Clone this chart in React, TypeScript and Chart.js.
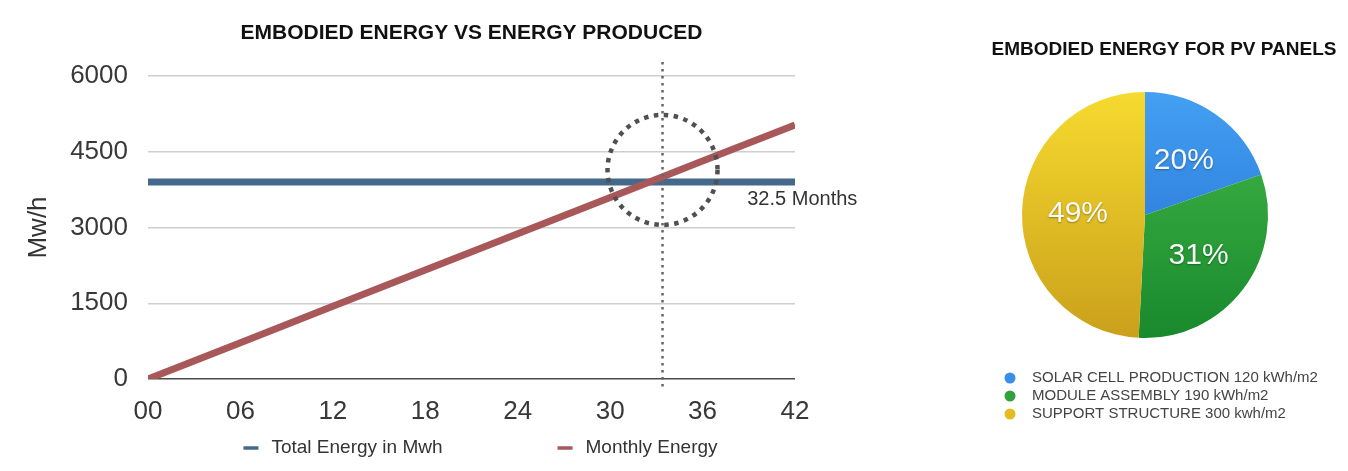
import React, { useEffect, useRef } from 'react';
import { Chart, registerables } from 'chart.js';

Chart.register(...registerables);

const FONT = '"Liberation Sans", Arial, Helvetica, sans-serif';

// ---- Line chart data ----
const lineTitle = 'EMBODIED ENERGY VS ENERGY PRODUCED';
const months = [0, 6, 12, 18, 24, 30, 36, 42];
const totalEnergy = [3900, 3900, 3900, 3900, 3900, 3900, 3900, 3900];
const monthlyEnergy = [0, 720, 1440, 2160, 2875, 3595, 4315, 5030];
const seriesNames = ['Total Energy in Mwh', 'Monthly Energy'];
const yTicks = [0, 1500, 3000, 4500, 6000];
const yAxisTitle = 'Mw/h';
const markerMonth = 33.4;
const markerCircleValue = 4140;
const markerLabel = '32.5 Months';
const markerLabelMonth = 38.9;
const markerLabelValue = 3545;

// ---- Pie chart data ----
const pieTitle = 'EMBODIED ENERGY FOR PV PANELS';
const pieLabels = [
  'SOLAR CELL PRODUCTION 120 kWh/m2',
  'MODULE ASSEMBLY 190 kWh/m2',
  'SUPPORT STRUCTURE 300 kwh/m2',
];
const pieValues = [120, 190, 300];

const BLUE = '#45698b';
const RED = '#a85859';

const pieGradStops = [
  ['#44a0f2', '#1f69cf'],
  ['#43b848', '#19892d'],
  ['#f6da2f', '#caa01b'],
];
const pieLegendColors = ['#3a8ee8', '#34a03c', '#e3bd1f'];

const linePlugin = {
  id: 'lineExtras',
  afterDatasetsDraw(chart: any) {
    const { ctx, chartArea, scales } = chart;
    const xs = scales.x;
    const ys = scales.y;
    ctx.save();
    // vertical dotted marker line
    const mx = xs.getPixelForValue(markerMonth);
    ctx.strokeStyle = '#666';
    ctx.lineWidth = 2.5;
    ctx.setLineDash([2.5, 4.5]);
    ctx.beginPath();
    ctx.moveTo(mx, chartArea.top - 14);
    ctx.lineTo(mx, chartArea.bottom + 11);
    ctx.stroke();
    // dotted circle
    const cy = ys.getPixelForValue(markerCircleValue);
    ctx.strokeStyle = '#505050';
    ctx.lineWidth = 4.5;
    ctx.setLineDash([4.5, 5.5]);
    ctx.beginPath();
    ctx.arc(mx, cy, 55, 0, Math.PI * 2);
    ctx.stroke();
    ctx.setLineDash([]);
    // marker label
    ctx.fillStyle = '#333';
    ctx.font = `20px ${FONT}`;
    ctx.textAlign = 'left';
    ctx.textBaseline = 'middle';
    ctx.fillText(markerLabel, xs.getPixelForValue(markerLabelMonth), ys.getPixelForValue(markerLabelValue));
    ctx.restore();
  },
  afterDraw(chart: any) {
    const { ctx, chartArea } = chart;
    ctx.save();
    // title
    ctx.fillStyle = '#111';
    ctx.font = `bold 21px ${FONT}`;
    ctx.textAlign = 'center';
    ctx.textBaseline = 'middle';
    ctx.fillText(lineTitle, (chartArea.left + chartArea.right) / 2, 33);
    // legend
    ctx.font = `19px ${FONT}`;
    const boxW = 15;
    const boxGap = 13;
    const itemGap = 115;
    const items = chart.data.datasets.map((d: any) => ({
      text: d.label,
      color: d.borderColor,
      w: boxW + boxGap + ctx.measureText(d.label).width,
    }));
    const total = items.reduce((s: number, it: any) => s + it.w, 0) + itemGap * (items.length - 1);
    let x = (chartArea.left + chartArea.right) / 2 + 9 - total / 2;
    const y = chart.height - 23;
    ctx.textAlign = 'left';
    items.forEach((it: any) => {
      ctx.fillStyle = it.color;
      ctx.fillRect(x, y - 1.75, boxW, 3.5);
      ctx.fillStyle = '#333';
      ctx.fillText(it.text, x + boxW + boxGap, y);
      x += it.w + itemGap;
    });
    ctx.restore();
  },
};

const piePlugin = {
  id: 'pieExtras',
  afterDraw(chart: any) {
    const { ctx } = chart;
    const meta = chart.getDatasetMeta(0);
    const sum = pieValues.reduce((a, b) => a + b, 0);
    ctx.save();
    // percent labels
    ctx.font = `30px ${FONT}`;
    ctx.textAlign = 'center';
    ctx.textBaseline = 'middle';
    meta.data.forEach((arc: any, i: number) => {
      const p = arc.getProps(['x', 'y', 'startAngle', 'endAngle', 'outerRadius'], true);
      const m = (p.startAngle + p.endAngle) / 2;
      const r = p.outerRadius * 0.545;
      ctx.shadowColor = 'rgba(0,0,0,0.35)';
      ctx.shadowBlur = 2;
      ctx.shadowOffsetY = 1;
      ctx.fillStyle = 'rgba(255,255,255,0.96)';
      ctx.fillText(Math.round((pieValues[i] / sum) * 100) + '%', p.x + Math.cos(m) * r, p.y + Math.sin(m) * r);
    });
    ctx.shadowColor = 'transparent';
    ctx.shadowBlur = 0;
    ctx.shadowOffsetY = 0;
    // title
    ctx.fillStyle = '#111';
    ctx.font = `bold 19px ${FONT}`;
    ctx.fillText(pieTitle, chart.width / 2, 50);
    // legend
    ctx.font = `15px ${FONT}`;
    ctx.textAlign = 'left';
    pieLabels.forEach((lab, i) => {
      const y = 378 + i * 18;
      ctx.fillStyle = pieLegendColors[i];
      ctx.beginPath();
      ctx.arc(30, y, 5.5, 0, Math.PI * 2);
      ctx.fill();
      ctx.fillStyle = '#444';
      ctx.fillText(lab, 52, y);
    });
    ctx.restore();
  },
};

export default function App() {
  const lineRef = useRef<HTMLCanvasElement>(null);
  const pieRef = useRef<HTMLCanvasElement>(null);

  useEffect(() => {
    const lineChart = new Chart(lineRef.current as HTMLCanvasElement, {
      type: 'line',
      data: {
        datasets: [
          {
            label: seriesNames[0],
            data: months.map((m, i) => ({ x: m, y: totalEnergy[i] })),
            borderColor: BLUE,
            backgroundColor: BLUE,
            borderWidth: 7,
            pointRadius: 0,
            tension: 0,
            borderCapStyle: 'butt',
            order: 1,
          },
          {
            label: seriesNames[1],
            data: months.map((m, i) => ({ x: m, y: monthlyEnergy[i] })),
            borderColor: RED,
            backgroundColor: RED,
            borderWidth: 7,
            pointRadius: 0,
            tension: 0,
            borderCapStyle: 'butt',
            order: 0,
          },
        ],
      },
      options: {
        responsive: false,
        animation: false,
        layout: { padding: { top: 76, right: 105, bottom: 0, left: 0 } },
        plugins: {
          legend: { display: false },
          title: { display: false },
          tooltip: { enabled: false },
        },
        scales: {
          x: {
            type: 'linear',
            min: 0,
            max: 42,
            afterBuildTicks: (s: any) => {
              s.ticks = months.map((v) => ({ value: v }));
            },
            ticks: {
              callback: (v: any) => String(v).padStart(2, '0'),
              font: { family: FONT, size: 26 },
              color: '#383838',
              padding: 9,
              maxRotation: 0,
              autoSkip: false,
            },
            grid: { display: false },
            border: { display: false },
            afterFit: (s: any) => {
              s.height = 92;
            },
          },
          y: {
            type: 'linear',
            min: 0,
            max: 6000,
            afterBuildTicks: (s: any) => {
              s.ticks = yTicks.map((v) => ({ value: v }));
            },
            ticks: {
              callback: (v: any) => String(v),
              font: { family: FONT, size: 26 },
              color: '#383838',
              padding: 20,
            },
            grid: {
              color: (c: any) => (c.tick && c.tick.value === 0 ? '#4a4a4a' : '#cfcfcf'),
              lineWidth: 1.5,
              drawTicks: false,
            },
            border: { display: false },
            title: {
              display: true,
              text: yAxisTitle,
              font: { family: FONT, size: 26 },
              color: '#333',
              padding: { top: 23, bottom: 0 },
            },
            afterFit: (s: any) => {
              s.width = 148;
            },
          },
        },
      } as any,
      plugins: [linePlugin],
    });

    const pieChart = new Chart(pieRef.current as HTMLCanvasElement, {
      type: 'pie',
      data: {
        labels: pieLabels,
        datasets: [
          {
            data: pieValues,
            borderWidth: 0,
            backgroundColor: (c: any) => {
              const chart = c.chart;
              const area = chart.chartArea;
              const stops = pieGradStops[c.dataIndex % pieGradStops.length];
              if (!area) return stops[0];
              const g = chart.ctx.createLinearGradient(0, area.top, 0, area.bottom);
              g.addColorStop(0, stops[0]);
              g.addColorStop(1, stops[1]);
              return g;
            },
          },
        ],
      },
      options: {
        responsive: false,
        animation: false,
        layout: { padding: { left: 42, right: 80, top: 92, bottom: 133 } },
        plugins: {
          legend: { display: false },
          title: { display: false },
          tooltip: { enabled: false },
        },
      } as any,
      plugins: [piePlugin],
    });

    return () => {
      lineChart.destroy();
      pieChart.destroy();
    };
  }, []);

  return (
    <div style={{ position: 'absolute', left: 0, top: 0, width: 1348, height: 471, background: '#fff' }}>
      <canvas
        ref={lineRef}
        width={900}
        height={471}
        style={{ position: 'absolute', left: 0, top: 0, display: 'block' }}
      />
      <canvas
        ref={pieRef}
        width={368}
        height={471}
        style={{ position: 'absolute', left: 980, top: 0, display: 'block' }}
      />
    </div>
  );
}
